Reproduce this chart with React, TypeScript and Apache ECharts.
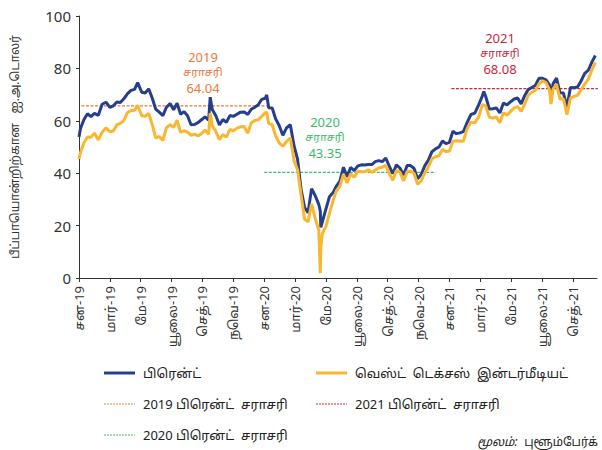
import React, { useEffect, useRef } from "react";
import * as echarts from "echarts";

const dates = [
  "2019-01-01","2019-01-04","2019-01-11","2019-01-18","2019-01-25","2019-02-01","2019-02-08","2019-02-15","2019-02-22",
  "2019-03-01","2019-03-08","2019-03-15","2019-03-22","2019-03-29","2019-04-05","2019-04-12","2019-04-19","2019-04-25",
  "2019-05-03","2019-05-10","2019-05-17","2019-05-24","2019-05-31","2019-06-07","2019-06-14","2019-06-21","2019-06-28",
  "2019-07-05","2019-07-12","2019-07-19","2019-07-26","2019-08-02","2019-08-09","2019-08-16","2019-08-23","2019-08-30",
  "2019-09-06","2019-09-13","2019-09-16","2019-09-20","2019-09-27","2019-10-04","2019-10-11","2019-10-18","2019-10-25",
  "2019-11-01","2019-11-08","2019-11-15","2019-11-22","2019-11-29","2019-12-06","2019-12-13","2019-12-20","2019-12-27",
  "2020-01-03","2020-01-06","2020-01-10","2020-01-17","2020-01-24","2020-01-31","2020-02-07","2020-02-14","2020-02-21",
  "2020-02-28","2020-03-06","2020-03-13","2020-03-20","2020-03-27","2020-04-03","2020-04-10","2020-04-17","2020-04-20",
  "2020-04-21","2020-04-24","2020-05-01","2020-05-08","2020-05-15","2020-05-22","2020-05-29","2020-06-05","2020-06-12",
  "2020-06-19","2020-06-26","2020-07-03","2020-07-10","2020-07-17","2020-07-24","2020-07-31","2020-08-07","2020-08-14",
  "2020-08-21","2020-08-28","2020-09-04","2020-09-11","2020-09-18","2020-09-25","2020-10-02","2020-10-09","2020-10-16",
  "2020-10-23","2020-10-30","2020-11-06","2020-11-13","2020-11-20","2020-11-27","2020-12-04","2020-12-11","2020-12-18",
  "2020-12-25","2021-01-01","2021-01-08","2021-01-15","2021-01-22","2021-01-29","2021-02-05","2021-02-12","2021-02-19",
  "2021-02-26","2021-03-05","2021-03-08","2021-03-12","2021-03-19","2021-03-26","2021-04-02","2021-04-09","2021-04-16",
  "2021-04-23","2021-04-30","2021-05-07","2021-05-14","2021-05-21","2021-05-28","2021-06-04","2021-06-11","2021-06-18",
  "2021-06-25","2021-07-02","2021-07-09","2021-07-16","2021-07-19","2021-07-23","2021-07-30","2021-08-06","2021-08-13",
  "2021-08-20","2021-08-27","2021-09-03","2021-09-10","2021-09-17","2021-09-24","2021-10-01","2021-10-08","2021-10-15",
];

const brent = [
  53.8,57.1,60.5,62.7,61.6,62.8,62.1,66.3,67.1,
  65.1,65.7,67.2,67.0,68.4,70.3,71.6,72.0,74.6,
  70.9,70.6,72.2,68.7,64.5,63.3,62.0,65.2,66.6,
  64.2,66.7,62.5,63.5,61.9,58.5,58.6,59.3,60.4,
  61.5,60.2,69.0,64.3,61.9,58.4,60.5,59.4,62.0,
  61.7,62.5,63.3,63.4,62.4,64.4,65.2,66.1,68.2,
  68.6,69.9,65.0,64.9,60.7,58.2,54.5,57.3,58.5,
  50.5,45.3,33.9,27.0,24.9,34.1,31.5,28.1,25.6,
  19.3,21.4,26.4,31.0,32.5,35.1,37.0,42.3,38.7,
  42.2,41.0,42.8,43.2,43.1,43.3,43.3,44.4,44.8,
  44.4,45.8,42.7,39.8,43.2,41.9,39.3,42.9,42.9,
  41.8,37.9,39.5,42.8,45.0,48.2,49.3,50.0,52.3,
  51.3,51.8,56.0,55.1,55.4,55.9,59.3,62.4,62.9,
  66.1,69.4,71.2,69.2,64.5,64.6,64.9,63.0,66.8,
  66.1,67.3,68.3,68.7,66.4,69.6,71.9,72.7,73.5,
  76.2,76.2,75.6,73.6,68.6,74.1,76.3,70.7,70.6,
  65.2,72.7,72.6,72.9,75.3,78.1,79.3,82.4,84.9,
];

const wti = [
  45.4,48.0,51.6,53.8,53.7,55.3,52.7,55.6,57.3,
  55.8,56.1,58.5,59.0,60.1,63.1,63.9,64.0,65.9,
  61.9,61.7,62.8,58.6,53.5,54.0,52.5,57.4,58.5,
  57.5,60.2,55.6,56.2,55.7,54.5,54.9,54.2,55.1,
  56.5,54.9,62.9,58.1,55.9,52.8,54.7,53.8,56.7,
  56.2,57.2,57.7,57.8,55.2,59.2,60.1,60.4,61.7,
  63.1,63.3,59.0,58.5,54.2,51.6,50.3,52.1,53.4,
  44.8,41.3,31.7,22.4,21.5,28.3,22.8,18.3,1.8,
  11.6,16.9,19.8,24.7,29.4,33.3,35.0,39.6,36.3,
  39.8,38.5,40.7,40.6,40.6,41.3,40.3,41.2,42.0,
  42.3,43.0,39.8,37.3,41.1,40.3,37.1,40.6,40.9,
  39.9,35.8,37.1,40.1,42.4,45.5,46.3,46.6,49.1,
  48.2,48.5,52.2,52.4,52.3,52.2,56.9,59.5,59.2,
  61.5,66.1,66.0,65.6,61.4,61.0,61.5,59.3,63.1,
  62.1,63.6,64.9,65.4,63.6,66.3,69.6,70.9,71.6,
  74.1,75.2,74.6,71.8,66.4,72.1,74.0,68.3,68.4,
  62.3,68.7,69.3,69.7,72.0,74.0,75.9,79.4,82.3,
];

// Average lines: start / end date and drawn level, label value
const avgNames = ["2019 பிரென்ட்  சராசரி", "2020 பிரென்ட்  சராசரி", "2021 பிரென்ட்  சராசரி"];
const avgYears = ["2019", "2020", "2021"];
const avgLabels = ["64.04", "43.35", "68.08"];
const avgStart = ["2019-01-06", "2020-01-01", "2021-01-05"];
const avgEnd = ["2020-01-13", "2020-12-04", "2021-10-20"];
const avgLevel = [65.7, 40.3, 72.3];
const avgColors = ["#ec7a3a", "#3dba6a", "#c8283e"];

const tickLabels = [
  "சன-19","மார்-19","மே-19","யூலை-19","செத்-19","நவெ-19",
  "சன-20","மார்-20","மே-20","யூலை-20","செத்-20","நவெ-20",
  "சன-21","மார்-21","மே-21","யூலை-21","செத்-21",
];

const BLUE = "#253f8c";
const YELLOW = "#fbb62f";
const FONT = "'Noto Sans', 'Noto Sans Tamil', sans-serif";

function toMonth(d: string): number {
  const [y, m, day] = d.split("-").map(Number);
  const dim = new Date(y, m, 0).getDate();
  return (y - 2019) * 12 + (m - 1) + (day - 1) / dim;
}

export default function App() {
  const ref = useRef<HTMLDivElement>(null);
  useEffect(() => {
    document.body.style.margin = "0";
    if (!ref.current) return;
    const chart = echarts.init(ref.current, null, { renderer: "svg" });
    const tickVals = tickLabels.map((_, i) => i * 2);
    const series: any[] = [];
    avgLevel.forEach((lv, i) => {
      series.push({
        type: "line",
        name: avgNames[i],
        data: [[toMonth(avgStart[i]), lv], [toMonth(avgEnd[i]), lv]],
        symbol: "none",
        lineStyle: { color: avgColors[i], width: 1.3, type: [3, 1.5] },
        z: 1,
      });
    });
    series.push({
      type: "line",
      name: "பிரென்ட்",
      data: dates.map((d, i) => [toMonth(d), brent[i]]),
      symbol: "none",
      lineStyle: { color: BLUE, width: 3 },
      z: 2,
    });
    series.push({
      type: "line",
      name: "வெஸ்ட் டெக்சஸ் இன்டர்மீடியட்",
      data: dates.map((d, i) => [toMonth(d), wti[i]]),
      symbol: "none",
      lineStyle: { color: YELLOW, width: 3 },
      z: 3,
    });

    const labelPos = [
      [203, 50],
      [325, 115],
      [500, 31],
    ];
    const graphics: any[] = [];
    labelPos.forEach((p, i) => {
      graphics.push({
        type: "text", x: p[0], y: p[1],
        style: { text: avgYears[i], fill: avgColors[i], font: `13px ${FONT}`, textAlign: "center" },
      });
      graphics.push({
        type: "text", x: p[0], y: p[1] + 16,
        style: { text: "சராசரி", fill: avgColors[i], font: `11px ${FONT}`, textAlign: "center" },
      });
      graphics.push({
        type: "text", x: p[0], y: p[1] + 31,
        style: { text: avgLabels[i], fill: avgColors[i], font: `13px ${FONT}`, textAlign: "center" },
      });
    });

    const legendItems = [
      { x: 104, y: 373, color: BLUE, w: 3, dash: null, text: "பிரென்ட்" },
      { x: 316, y: 373, color: YELLOW, w: 3, dash: null, text: "வெஸ்ட்  டெக்சஸ்  இன்டர்மீடியட்" },
      { x: 104, y: 404, color: avgColors[0], w: 1, dash: [2, 1], text: avgNames[0] },
      { x: 316, y: 404, color: avgColors[2], w: 1, dash: [2, 1], text: avgNames[2] },
      { x: 104, y: 435, color: avgColors[1], w: 1, dash: [2, 1], text: avgNames[1] },
    ];
    legendItems.forEach((it) => {
      graphics.push({
        type: "line",
        shape: { x1: it.x, y1: it.y, x2: it.x + 31, y2: it.y },
        style: { stroke: it.color, lineWidth: it.w, lineDash: it.dash || undefined },
      });
      graphics.push({
        type: "text", x: it.x + 39, y: it.y,
        style: { text: it.text, fill: "#222", font: `13px ${FONT}`, textVerticalAlign: "middle" },
      });
    });
    graphics.push({
      type: "text", x: 598, y: 441,
      style: {
        rich: {
          a: { fontStyle: "italic", fontSize: 12, fontFamily: FONT, fill: "#222" },
          b: { fontSize: 12, fontFamily: FONT, fill: "#222" },
        },
        text: "{a|மூலம்:}  {b|புளூம்பேர்க்}",
        textAlign: "right", textVerticalAlign: "middle",
      },
    });

    chart.setOption({
      animation: false,
      textStyle: { fontFamily: FONT },
      grid: { left: 79, right: 5, top: 16, bottom: 172, containLabel: false },
      xAxis: {
        type: "value",
        min: 0,
        max: 33.56,
        interval: 2,
        splitLine: { show: false },
        axisLine: { show: true, lineStyle: { color: "#333", width: 1 } },
        axisTick: { show: true, customValues: tickVals, length: 4, lineStyle: { color: "#333" } },
        axisLabel: {
          customValues: tickVals,
          rotate: 90,
          margin: 8,
          fontSize: 13,
          color: "#333",
          formatter: (v: number) => tickLabels[Math.round(v / 2)] ?? "",
        },
      },
      yAxis: {
        type: "value",
        min: 0,
        max: 100,
        interval: 20,
        name: "பீப்பாயொன்றிற்கான   ஐ.அ.டொலர்",
        nameLocation: "middle",
        nameGap: 59,
        nameTextStyle: { fontSize: 12, color: "#333" },
        splitLine: { show: false },
        axisLine: { show: true, lineStyle: { color: "#333", width: 1 } },
        axisTick: { show: true, length: 3, lineStyle: { color: "#333" } },
        axisLabel: { fontSize: 15, color: "#333", margin: 8 },
      },
      series,
      graphic: graphics,
    });
    return () => chart.dispose();
  }, []);
  return <div ref={ref} style={{ width: 602, height: 450 }} />;
}
